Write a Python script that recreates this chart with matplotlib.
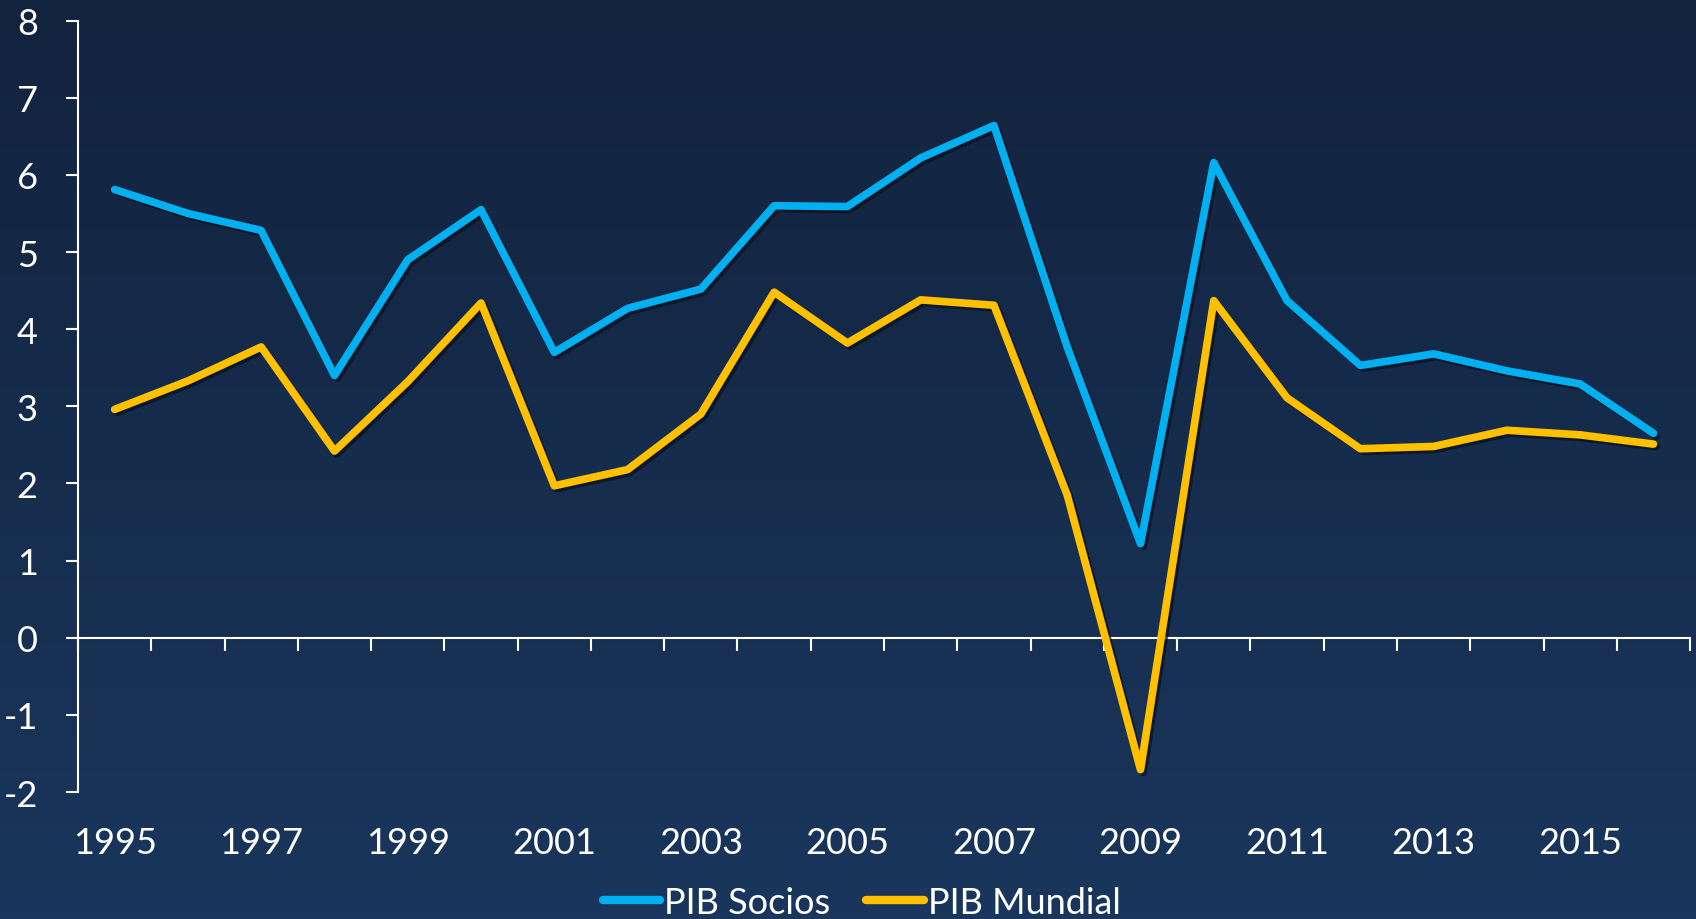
import numpy as np
import matplotlib
matplotlib.use("Agg")
import matplotlib.pyplot as plt
import matplotlib.patheffects as pe
from matplotlib.colors import LinearSegmentedColormap
from matplotlib.transforms import blended_transform_factory

plt.rcParams['font.family'] = ['Lato', 'DejaVu Sans']
plt.rcParams['axes.unicode_minus'] = False

# data
years = list(range(1995, 2017))
pib_socios = [5.81, 5.50, 5.28, 3.40, 4.90, 5.55, 3.70, 4.27, 4.52, 5.60, 5.59,
              6.22, 6.64, 3.77, 1.22, 6.16, 4.37, 3.53, 3.68, 3.46, 3.29, 2.65]
pib_mundial = [2.96, 3.33, 3.77, 2.42, 3.32, 4.34, 1.97, 2.18, 2.90, 4.48, 3.82,
               4.38, 4.31, 1.85, -1.71, 4.37, 3.11, 2.45, 2.48, 2.69, 2.63, 2.51]
series_names = ['PIB Socios', 'PIB Mundial']
series_colors = ['#00B0F0', '#FFC000']

fig = plt.figure(figsize=(16.96, 9.2), dpi=100)

# gradient background
bg = fig.add_axes([0, 0, 1, 1], zorder=-10)
cmap = LinearSegmentedColormap.from_list('bg', ['#12233e', '#1a365c'])
grad = np.linspace(0, 1, 256).reshape(-1, 1)
bg.imshow(grad, aspect='auto', cmap=cmap, extent=[0, 1, 0, 1], origin='upper')
bg.set_axis_off()

ax = fig.add_axes([0.046, 0.138, 0.9505, 0.8385])
ax.patch.set_alpha(0)

x = np.arange(len(years))
shadow = [pe.SimpleLineShadow(offset=(2, -2), shadow_color='#08101e', alpha=0.7), pe.Normal()]
for vals, name, col in zip([pib_socios, pib_mundial], series_names, series_colors):
    ax.plot(x, vals, color=col, lw=5.5, label=name, solid_joinstyle='round',
            solid_capstyle='round', path_effects=shadow, zorder=3)

ax.set_xlim(-0.5, len(years) - 0.5)
ax.set_ylim(-2, 8)

for s in ['top', 'right']:
    ax.spines[s].set_visible(False)
ax.spines['left'].set_color('white')
ax.spines['bottom'].set_color('white')
ax.spines['left'].set_linewidth(1.5)
ax.spines['bottom'].set_linewidth(1.5)
ax.spines['bottom'].set_position(('data', 0))

ax.set_yticks(range(-2, 9))
ax.tick_params(axis='y', colors='white', labelsize=26, length=9, width=1.5,
               direction='out', pad=20)
ax.set_xticks(np.arange(len(years) + 1) - 0.5)
ax.set_xticklabels([])
ax.tick_params(axis='x', colors='white', length=9, width=1.5, direction='out')

trans = blended_transform_factory(ax.transData, ax.transAxes)
for i, yr in enumerate(years):
    if i % 2 == 0:
        ax.text(i, -0.066, str(yr), transform=trans, ha='center', va='center',
                color='white', fontsize=26)

leg = fig.legend(loc='center', bbox_to_anchor=(0.508, 0.018), ncol=2, frameon=False,
                 fontsize=26, handlelength=1.6, handletextpad=0.1, columnspacing=1.0,
                 labelcolor='white')
for h in leg.legend_handles:
    h.set_path_effects([])
    h.set_linewidth(6)

fig.savefig('out.png', dpi=100)
